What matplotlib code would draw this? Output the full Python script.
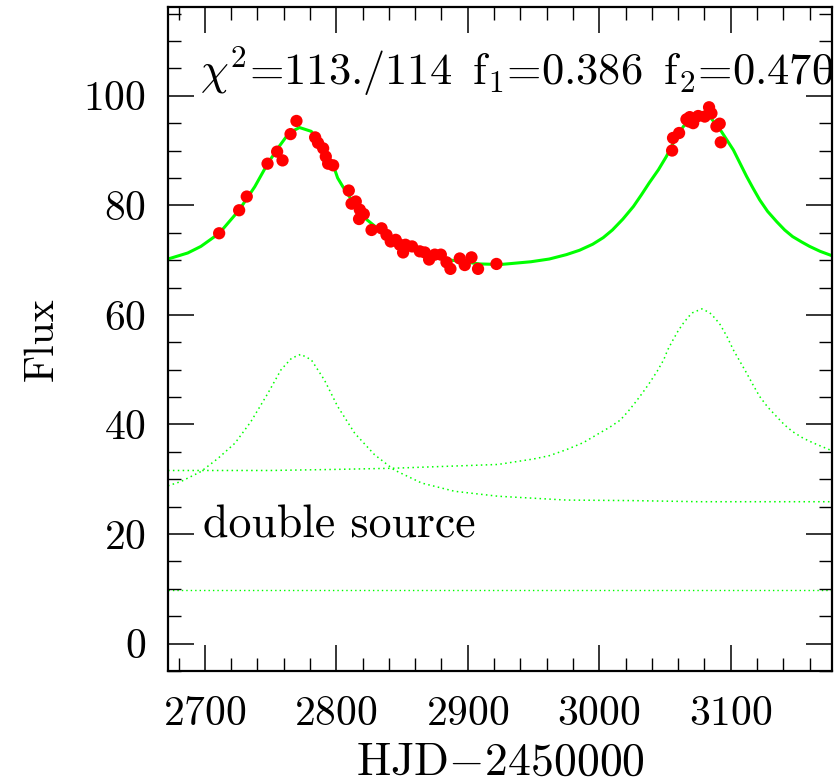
import matplotlib
matplotlib.use("Agg")
import matplotlib.pyplot as plt
from matplotlib.ticker import MultipleLocator

# observed points (HJD-2450000, flux)
t_obs = [2710.9, 2726.1, 2731.9, 2747.7, 2755.0, 2759.1, 2765.2, 2769.7,
         2783.9, 2786.1, 2790.0, 2792.0, 2793.8, 2797.6, 2809.5, 2811.6,
         2814.8, 2817.9, 2820.9, 2817.3, 2826.8, 2834.4, 2838.2, 2841.4,
         2845.2, 2848.3, 2852.6, 2850.8, 2857.6, 2863.5, 2867.3, 2870.6,
         2874.9, 2879.5, 2883.8, 2886.8, 2893.9, 2897.7, 2902.8, 2907.8,
         2921.8,
         3055.4, 3056.1, 3060.7, 3066.3, 3068.3, 3068.8, 3071.4, 3075.2,
         3080.2, 3083.5, 3085.3, 3089.1, 3091.6, 3092.4]
f_obs = [74.9, 79.1, 81.6, 87.6, 89.8, 88.2, 93.0, 95.4,
         92.4, 91.4, 90.4, 88.9, 87.6, 87.3, 82.7, 80.3,
         80.7, 79.2, 78.4, 77.5, 75.5, 75.8, 74.6, 73.4,
         73.7, 72.8, 72.8, 71.4, 72.5, 71.6, 71.4, 70.1,
         71.0, 71.0, 69.6, 68.4, 70.3, 69.1, 70.5, 68.4,
         69.3,
         90.0, 92.3, 93.2, 95.7, 95.3, 96.1, 95.0, 96.3,
         96.2, 97.9, 96.8, 94.4, 94.9, 91.5]

# total model
t_tot = [2672, 2687, 2697, 2711, 2726, 2738, 2748, 2757, 2764, 2772,
         2781, 2788, 2798, 2801, 2805, 2820, 2836, 2858, 2884, 2909,
         2925, 2948, 2962, 2975, 2985, 2995, 3003, 3010, 3018, 3026,
         3032, 3038, 3045, 3051, 3057, 3064, 3074, 3077, 3084, 3092,
         3102, 3107, 3112, 3117, 3122, 3128, 3135, 3141, 3147, 3154,
         3160, 3168, 3177]
f_tot = [70.2, 71.3, 72.5, 74.9, 79.1, 83.4, 87.7, 90.9, 93.2, 94.2,
         93.5, 91.1, 87.1, 85.0, 83.4, 78.0, 74.9, 71.9, 70.1, 69.3,
         69.2, 69.7, 70.2, 71.0, 71.8, 72.9, 74.1, 75.5, 77.5, 79.8,
         81.9, 84.1, 86.5, 88.9, 91.7, 94.4, 96.8, 97.0, 96.2, 93.8,
         90.1, 87.7, 85.3, 83.1, 81.0, 78.9, 77.0, 75.5, 74.3, 73.3,
         72.5, 71.6, 70.8]

# source 1
t_s1 = [2672, 2682, 2697, 2710, 2723, 2735, 2748, 2758, 2766, 2773,
        2781, 2791, 2801, 2814, 2829, 2844, 2865, 2890, 2923, 2975,
        3026, 3076, 3177]
f_s1 = [28.8, 29.6, 31.4, 33.8, 36.6, 40.5, 45.7, 50.0, 52.1, 52.8,
        51.8, 48.1, 43.3, 38.4, 34.5, 31.7, 29.3, 27.8, 26.9, 26.2,
        26.1, 25.9, 25.9]

# source 2
t_s2 = [2672, 2750, 2800, 2842, 2923, 2950, 2962, 2975, 2988, 3000,
        3008, 3016, 3022, 3028, 3033, 3038, 3044, 3049, 3052, 3056,
        3060, 3064, 3068, 3071, 3078, 3084, 3088, 3092, 3097, 3102,
        3107, 3112, 3117, 3122, 3128, 3135, 3141, 3147, 3155, 3163,
        3177]
f_s2 = [31.6, 31.6, 31.8, 32.0, 32.7, 33.7, 34.3, 35.4, 36.7, 38.4,
        39.5, 40.8, 42.4, 44.2, 45.8, 47.5, 49.7, 51.8, 53.6, 55.4,
        57.1, 58.5, 59.7, 60.4, 61.1, 60.4, 59.4, 58.2, 56.1, 53.6,
        51.5, 49.4, 47.2, 45.1, 43.2, 41.4, 39.9, 38.7, 37.5, 36.6,
        35.2]

blend = 9.7

plt.rcParams['font.family'] = 'cmr10'
plt.rcParams['mathtext.fontset'] = 'cm'
plt.rcParams['axes.unicode_minus'] = False
plt.rcParams['axes.formatter.use_mathtext'] = True

fig = plt.figure(figsize=(8.35, 7.83), dpi=100)
ax = fig.add_axes([168/835, 1-671/783, 664/835, 664/783])

green = '#00ff00'
ax.plot(t_tot, f_tot, color=green, lw=2.2, zorder=2)
ax.plot(t_s1, f_s1, color=green, lw=1.1, ls=(0, (1, 2.2)), zorder=1)
ax.plot(t_s2, f_s2, color=green, lw=1.1, ls=(0, (1, 2.2)), zorder=1)
ax.axhline(blend, color=green, lw=1.0, ls=(0, (1, 2.2)), zorder=1)
ax.scatter(t_obs, f_obs, s=78, color='#ff0000', edgecolors='none', zorder=3)

ax.set_xlim(2672, 3177)
ax.set_ylim(-5, 116.2)
ax.xaxis.set_major_locator(MultipleLocator(100))
ax.xaxis.set_minor_locator(MultipleLocator(20))
ax.yaxis.set_major_locator(MultipleLocator(20))
ax.yaxis.set_minor_locator(MultipleLocator(5))
ax.tick_params(which='both', direction='in', top=True, right=True, labelsize=30)
ax.tick_params(which='major', length=19, width=1.1)
ax.tick_params(which='minor', length=9.5, width=1.0)
ax.tick_params(axis='x', pad=18)
ax.tick_params(axis='y', pad=16)
for s in ax.spines.values():
    s.set_linewidth(1.6)

ax.set_xlabel(r'HJD$-$2450000', fontsize=33, labelpad=6)
ax.set_ylabel('Flux', fontsize=30, labelpad=16)

ax.text(2696, 102, r'$\chi^2$=113./114 $\,$f$_1$=0.386 $\,$f$_2$=0.470',
        fontsize=32, ha='left', va='baseline')
ax.text(2698.5, 19.3, 'double source', fontsize=33, ha='left', va='baseline')

fig.savefig('out.png', dpi=100)
